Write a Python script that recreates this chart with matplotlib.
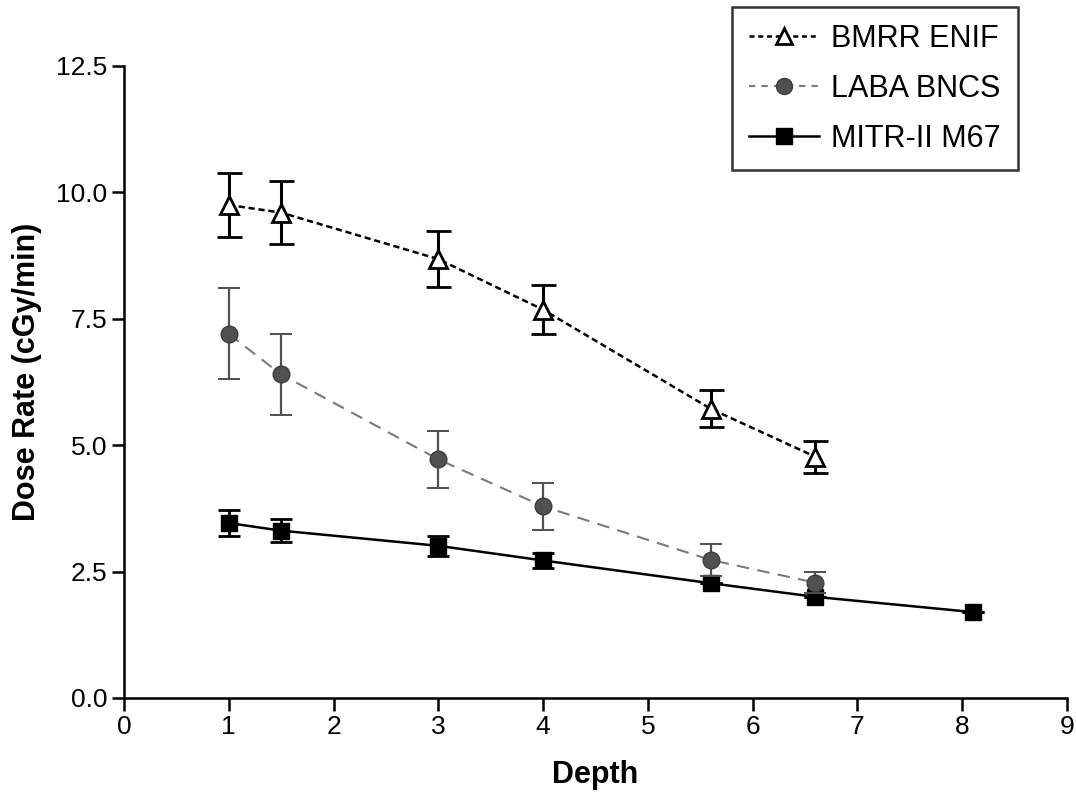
import matplotlib
matplotlib.use("Agg")
import matplotlib.pyplot as plt
from matplotlib.lines import Line2D

plt.rcParams['font.family'] = ['Liberation Sans', 'DejaVu Sans']

# Depth (x) and dose rate (y) with error magnitudes for each beam
bmrr_x = [1.0, 1.5, 3.0, 4.0, 5.6, 6.6]
bmrr_y = [9.75, 9.60, 8.68, 7.68, 5.72, 4.77]
bmrr_err = [0.64, 0.63, 0.55, 0.48, 0.37, 0.32]

laba_x = [1.0, 1.5, 3.0, 4.0, 5.6, 6.6]
laba_y = [7.20, 6.40, 4.72, 3.79, 2.73, 2.28]
laba_err = [0.90, 0.80, 0.57, 0.46, 0.31, 0.21]

mitr_x = [1.0, 1.5, 3.0, 4.0, 5.6, 6.6, 8.1]
mitr_y = [3.46, 3.31, 3.01, 2.72, 2.27, 2.00, 1.70]
mitr_err = [0.25, 0.23, 0.20, 0.15, 0.0, 0.0, 0.0]

labels = ['BMRR ENIF', 'LABA BNCS', 'MITR-II M67']
x_ticks = [0, 1, 2, 3, 4, 5, 6, 7, 8, 9]
y_ticks = [0.0, 2.5, 5.0, 7.5, 10.0, 12.5]

fig = plt.figure(figsize=(10.76, 7.92), dpi=100)
ax = fig.add_axes([0.1152, 0.1187, 0.8764, 0.798])

gray = '#7a7a7a'
dark = '#505050'

ax.errorbar(mitr_x, mitr_y, yerr=mitr_err, color='black', lw=1.8,
            ls='-', marker='s', ms=11, mfc='black', mec='black',
            elinewidth=2.0, capsize=8, capthick=2.0, zorder=3)
ax.errorbar(laba_x, laba_y, yerr=laba_err, color=gray, lw=1.5,
            ls=(0, (6, 4)), marker='o', ms=12, mfc=dark, mec='#3c3c3c',
            ecolor=dark, elinewidth=1.6, capsize=8, capthick=1.4, zorder=4)
ax.errorbar(bmrr_x, bmrr_y, yerr=bmrr_err, color='black', lw=1.8,
            ls=(0, (2.5, 1.5)), marker='^', ms=12.5, mfc='white', mec='black',
            mew=2.0, elinewidth=2.2, capsize=9, capthick=2.2, zorder=5)

ax.set_xlim(0, 9)
ax.set_ylim(0, 12.5)
ax.set_xticks(x_ticks)
ax.set_xticklabels([str(t) for t in x_ticks])
ax.set_yticks(y_ticks)
ax.set_yticklabels([f'{t:.1f}' for t in y_ticks])

for side in ('top', 'right'):
    ax.spines[side].set_visible(False)
for side in ('left', 'bottom'):
    ax.spines[side].set_linewidth(1.8)

ax.tick_params(axis='both', direction='out', length=9, width=1.8,
               labelsize=19, pad=3)

ax.set_xlabel('Depth', fontsize=22, fontweight='bold')
ax.xaxis.set_label_coords(0.5, -0.098)
ax.set_ylabel('Dose Rate (cGy/min)', fontsize=22, fontweight='bold', va='center')
ax.yaxis.set_label_coords(-0.103, 0.516)

handles = [
    Line2D([], [], color='black', lw=1.8, ls=(0, (2, 1.5)), marker='^', ms=12,
           mfc='white', mec='black', mew=2.0),
    Line2D([], [], color=gray, lw=1.5, ls=(0, (3, 3)), marker='o', ms=11.5,
           mfc=dark, mec='#3c3c3c'),
    Line2D([], [], color='black', lw=1.8, ls='-', marker='s', ms=11,
           mfc='black', mec='black'),
]
leg = fig.legend(handles, labels, loc='upper right',
                 bbox_to_anchor=(0.946, 0.991), fontsize=22,
                 frameon=True, fancybox=False, edgecolor='black',
                 handlelength=2.3, handletextpad=0.4, labelspacing=0.65,
                 borderpad=0.55, borderaxespad=0)
leg.get_frame().set_linewidth(1.8)

fig.savefig('out.png', dpi=100)
